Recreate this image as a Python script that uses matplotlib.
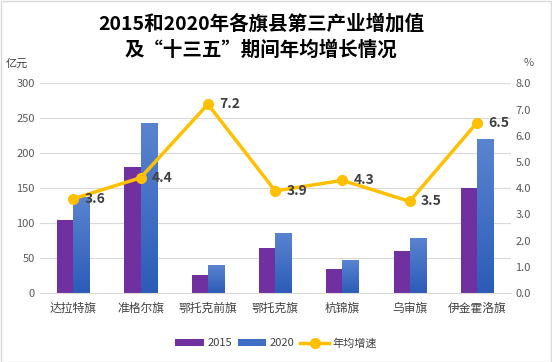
import matplotlib.pyplot as plt
import numpy as np
from matplotlib.colors import LinearSegmentedColormap

plt.rcParams['font.family'] = ['Noto Sans CJK SC', 'DejaVu Sans']

# data
counties = ['达拉特旗', '准格尔旗', '鄂托克前旗', '鄂托克旗', '杭锦旗', '乌审旗', '伊金霍洛旗']
v2015 = [104, 181, 26, 64, 34, 61, 150]
v2020 = [138, 243, 40, 86, 47, 79, 220]
growth = [3.6, 4.4, 7.2, 3.9, 4.3, 3.5, 6.5]

fig = plt.figure(figsize=(5.52, 3.62), dpi=100)
ax = fig.add_axes([0.072, 0.19, 0.853, 0.58])
ax2 = ax.twinx()

x = np.arange(len(counties))
w = 0.24
ax.bar(x - w / 2, v2015, w, color='#7030A0', label='2015', zorder=2)
bars = ax.bar(x + w / 2, v2020, w, color='#3E6FC4', label='2020', zorder=2)

# blue bars: light on top, darker at the base
cmap = LinearSegmentedColormap.from_list('blue', ['#2C5CB8', '#5A84D0'])
grad = np.linspace(0, 1, 100).reshape(-1, 1)
for b in bars:
    bx, by = b.get_x(), b.get_y()
    im = ax.imshow(grad, cmap=cmap, origin='lower', aspect='auto', zorder=2.1,
                   extent=[bx, bx + b.get_width(), by, by + b.get_height()])
    im.set_clip_path(b)

ax2.plot(x, growth, color='#FFC000', lw=2.5, marker='o', ms=7, label='年均增速', zorder=3)
for xi, g in zip(x, growth):
    ax2.annotate(f'{g:.1f}', (xi, g), xytext=(8, 0), textcoords='offset points',
                 ha='left', va='center', fontsize=10, fontweight='bold', color='#404040')

ax.set_xlim(-0.5, len(counties) - 0.5)
ax.set_ylim(0, 300)
ax.set_yticks(range(0, 301, 50))
ax2.set_ylim(0, 8)
ax2.set_yticks(np.arange(0, 8.1, 1))
ax2.set_yticklabels([f'{t:.1f}' for t in np.arange(0, 8.1, 1)])
ax.set_xticks(x)
ax.set_xticklabels(counties)

ax.grid(axis='y', color='#D9D9D9', lw=0.8, zorder=0)
for a in (ax, ax2):
    for s in a.spines.values():
        s.set_visible(False)
    a.tick_params(length=0, labelsize=8, colors='#595959')
ax.spines['bottom'].set_visible(True)
ax.spines['bottom'].set_color('#D9D9D9')
ax.tick_params(axis='x', labelsize=8.5, colors='#404040', pad=6)

fig.text(0.473, 0.935, '2015和2020年各旗县第三产业增加值', ha='center', va='center',
         fontsize=14, fontweight='bold', color='black')
fig.text(0.473, 0.862, '及“十三五”期间年均增长情况', ha='center', va='center',
         fontsize=14, fontweight='bold', color='black')
fig.text(0.01, 0.825, '亿元', fontsize=8, color='#404040', va='center')
fig.text(0.948, 0.825, '%', fontsize=8, color='#595959', va='center')

h1, l1 = ax.get_legend_handles_labels()
h2, l2 = ax2.get_legend_handles_labels()
fig.legend(h1 + h2, l1 + l2, loc='center', bbox_to_anchor=(0.5, 0.052), ncol=3,
           frameon=False, fontsize=8, handlelength=2.6, handleheight=0.5,
           columnspacing=0.5, handletextpad=0.3, labelcolor='#404040')

fig.patches.append(plt.Rectangle((0.001, 0.001), 0.997, 0.996, transform=fig.transFigure,
                                 fill=False, edgecolor='#D9D9D9', lw=1))

fig.savefig('out.png', dpi=100)
